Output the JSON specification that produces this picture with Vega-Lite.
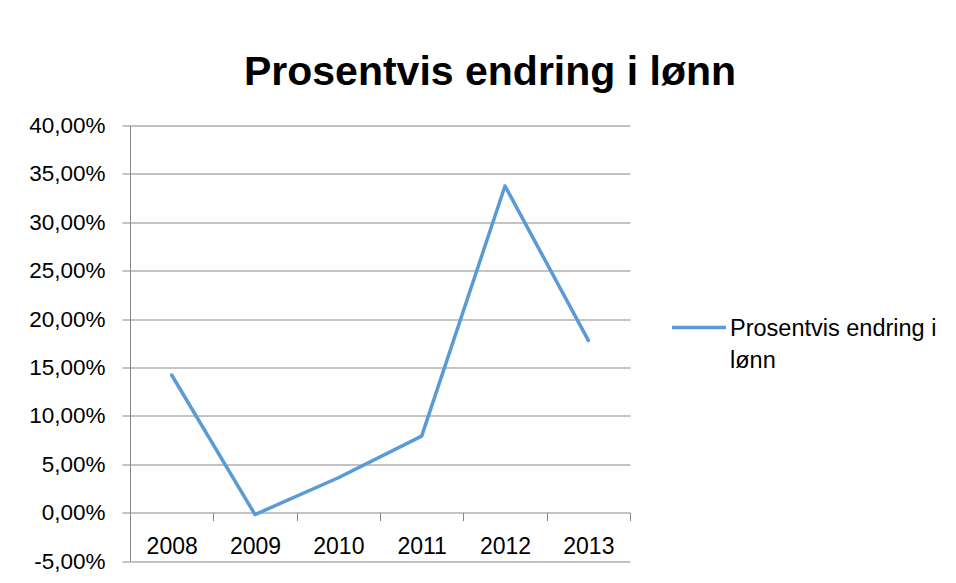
{
  "$schema": "https://vega.github.io/schema/vega-lite/v6.json",
  "width": 500,
  "height": 435.5,
  "autosize": {"type": "none"},
  "padding": {"left": 130, "top": 125.5, "right": 326, "bottom": 22},
  "background": "white",
  "config": {
    "locale": {"number": {"decimal": ",", "thousands": " ", "grouping": [3], "currency": ["", " kr"], "minus": "-"}},
    "view": {"stroke": null},
    "font": "Liberation Sans"
  },
  "title": {
    "text": "Prosentvis endring i lønn",
    "font": "Liberation Sans",
    "fontSize": 41,
    "fontWeight": "bold",
    "color": "black",
    "anchor": "middle",
    "baseline": "alphabetic",
    "offset": -11,
    "dx": 110
  },
  "data": {
    "values": [
      {"year": "2008", "value": 0.1422, "serie": "Prosentvis endring i lønn"},
      {"year": "2009", "value": -0.0020, "serie": "Prosentvis endring i lønn"},
      {"year": "2010", "value": 0.0360, "serie": "Prosentvis endring i lønn"},
      {"year": "2011", "value": 0.0790, "serie": "Prosentvis endring i lønn"},
      {"year": "2012", "value": 0.3375, "serie": "Prosentvis endring i lønn"},
      {"year": "2013", "value": 0.1780, "serie": "Prosentvis endring i lønn"}
    ]
  },
  "mark": {"type": "line", "strokeWidth": 3.5, "strokeJoin": "round", "strokeCap": "round"},
  "encoding": {
    "x": {
      "field": "year",
      "type": "ordinal",
      "scale": {"type": "band", "paddingInner": 0, "paddingOuter": 0},
      "axis": {
        "title": null,
        "orient": "bottom",
        "offset": -48.4,
        "domain": false,
        "grid": false,
        "ticks": true,
        "tickBand": "extent",
        "tickSize": 8,
        "tickColor": "#878787",
        "labelAngle": 0,
        "labelFont": "Liberation Sans",
        "labelFontSize": 23,
        "labelColor": "black",
        "labelBaseline": "middle",
        "labelPadding": 26
      }
    },
    "y": {
      "field": "value",
      "type": "quantitative",
      "scale": {"domain": [-0.05, 0.4], "nice": false, "zero": false},
      "axis": {
        "title": null,
        "values": [-0.05, 0, 0.05, 0.1, 0.15, 0.2, 0.25, 0.3, 0.35, 0.4],
        "format": ".2%",
        "grid": true,
        "gridColor": "#878787",
        "gridWidth": 1,
        "domain": true,
        "domainColor": "#878787",
        "tickColor": "#878787",
        "tickSize": 8,
        "labelFont": "Liberation Sans",
        "labelFontSize": 22.5,
        "labelColor": "black",
        "labelPadding": 17
      }
    },
    "color": {
      "field": "serie",
      "type": "nominal",
      "scale": {"range": ["#5B9BD5"]},
      "legend": {
        "title": null,
        "orient": "none",
        "legendX": 540,
        "legendY": 173,
        "padding": 0,
        "symbolType": "stroke",
        "symbolSize": 2916,
        "symbolStrokeWidth": 3.5,
        "labelOffset": 2,
        "labelFont": "Liberation Sans",
        "labelFontSize": 23.5,
        "labelColor": "black",
        "labelLimit": 400,
        "labelBaseline": "alphabetic",
        "labelExpr": "['Prosentvis endring i', 'lønn']",
        "encode": {"labels": {"update": {"lineHeight": {"value": 32}, "dy": {"value": 8}}}}
      }
    }
  }
}
